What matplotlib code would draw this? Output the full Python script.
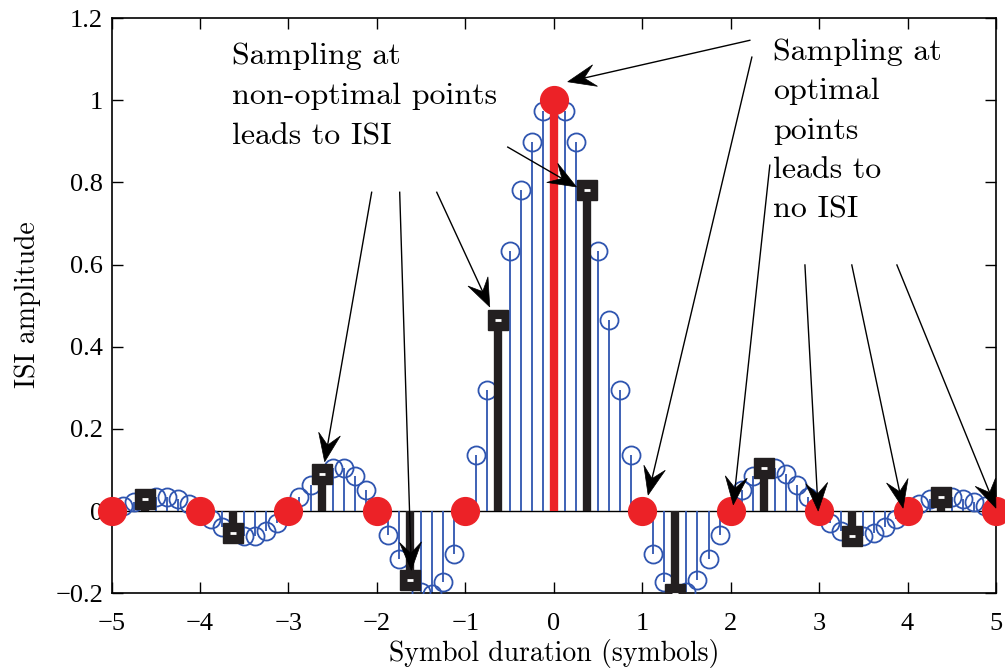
import numpy as np
import matplotlib
matplotlib.use('Agg')
import matplotlib.pyplot as plt
from matplotlib.patches import Polygon

# pulse sampled every 1/8 of a symbol, -5 .. 5
t_fine = np.linspace(-5, 5, 81)
isi_fine = [0.0, 0.011, 0.022, 0.030, 0.035, 0.035, 0.029, 0.017,
            0.0, -0.019, -0.038, -0.053, -0.061, -0.060, -0.049, -0.029,
            0.0, 0.033, 0.064, 0.090, 0.105, 0.104, 0.085, 0.050,
            0.0, -0.058, -0.117, -0.167, -0.198, -0.202, -0.172, -0.104,
            0.0, 0.136, 0.295, 0.465, 0.632, 0.781, 0.899, 0.974,
            1.0,
            0.974, 0.899, 0.781, 0.632, 0.465, 0.295, 0.136, 0.0,
            -0.104, -0.172, -0.202, -0.198, -0.167, -0.117, -0.058, 0.0,
            0.050, 0.085, 0.104, 0.105, 0.090, 0.064, 0.033, 0.0,
            -0.029, -0.049, -0.060, -0.061, -0.053, -0.038, -0.019, 0.0,
            0.017, 0.029, 0.035, 0.035, 0.030, 0.022, 0.011, 0.0]

# non-optimal sampling instants (offset by 3/8 symbol)
t_bad = [-4.625, -3.625, -2.625, -1.625, -0.625, 0.375, 1.375, 2.375, 3.375, 4.375]
isi_bad = [0.030, -0.053, 0.090, -0.167, 0.465, 0.781, -0.202, 0.104, -0.060, 0.035]

# optimal sampling instants
t_good = [-5, -4, -3, -2, -1, 0, 1, 2, 3, 4, 5]
isi_good = [0, 0, 0, 0, 0, 1, 0, 0, 0, 0, 0]

x_ticks = [-5, -4, -3, -2, -1, 0, 1, 2, 3, 4, 5]
x_ticklabels = ['\u22125', '\u22124', '\u22123', '\u22122', '\u22121', '0', '1', '2', '3', '4', '5']
y_ticks = [-0.2, 0, 0.2, 0.4, 0.6, 0.8, 1, 1.2]
y_ticklabels = ['\u22120.2', '0', '0.2', '0.4', '0.6', '0.8', '1', '1.2']

blue = '#2f55b0'
red = '#ec2227'
black = '#231f20'
cm = 'cmr10'

fig = plt.figure(figsize=(10.05, 6.71), dpi=100)
ax = fig.add_axes([0.111, 0.116, 0.880, 0.857])

ax.axhline(0, color='k', lw=1, zorder=1)

# blue stems
ax.vlines(t_fine, 0, isi_fine, color=blue, lw=1.3, zorder=2)
ax.plot(t_fine, isi_fine, 'o', ms=13, mfc='none', mec=blue, mew=1.3, zorder=3)

# black stems (bad sampling)
ax.vlines(t_bad, 0, isi_bad, color=black, lw=6, zorder=4)
ax.plot(t_bad, isi_bad, 's', ms=15, mfc=black, mec=black, zorder=5)
ax.plot(t_bad, isi_bad, '_', ms=4, mec='white', mew=2, zorder=6)

# red stems (good sampling)
ax.vlines(t_good, 0, isi_good, color=red, lw=6, zorder=7)
ax.plot(t_good, isi_good, 'o', ms=20, mfc=red, mec=red, zorder=8, clip_on=False)

ax.set_xlim(-5, 5)
ax.set_ylim(-0.2, 1.2)
ax.set_xticks(x_ticks)
ax.set_xticklabels(x_ticklabels)
ax.set_yticks(y_ticks)
ax.set_yticklabels(y_ticklabels)
ax.tick_params(direction='in', length=8, width=1, top=True, right=True, labelsize=19)
ax.tick_params(axis='x', pad=14)
ax.tick_params(axis='y', pad=6)
for lab in ax.get_xticklabels() + ax.get_yticklabels():
    lab.set_fontfamily('Liberation Serif')
for sp in ax.spines.values():
    sp.set_linewidth(1.2)

fig.text(554 / 1005, 1 - 653 / 671, 'Symbol duration (symbols)', fontfamily=cm,
         fontsize=20, ha='center', va='center')
fig.text(28 / 1005, 1 - 305 / 671, 'ISI amplitude', fontfamily=cm, fontsize=20,
         rotation=90, ha='center', va='center')

ax.text(-3.643, 1.14, 'Sampling at\nnon-optimal points\nleads to ISI',
        fontfamily=cm, fontsize=23, va='top', ha='left', linespacing=1.58, zorder=10)
ax.text(2.477, 1.15, 'Sampling at\noptimal\npoints\nleads to\nno ISI',
        fontfamily=cm, fontsize=23, va='top', ha='left', linespacing=1.55, zorder=10)

arrows = [((-2.059, 0.776), (-2.59, 0.12)),
          ((-1.742, 0.776), (-1.61, -0.144)),
          ((-1.323, 0.776), (-0.724, 0.497)),
          ((-0.52, 0.886), (0.257, 0.789)),
          ((2.217, 1.146), (0.158, 1.045)),
          ((2.24, 1.105), (1.067, 0.039)),
          ((2.443, 0.842), (2.03, 0.015)),
          ((2.84, 0.599), (2.99, 0.0)),
          ((3.37, 0.599), (3.95, 0.007)),
          ((3.88, 0.599), (5.0, 0.007))]

# concave arrowheads drawn in pixel space
head_len, head_half, notch = 28, 11, 0.6
for start, tip in arrows:
    p0 = ax.transData.transform(start)
    p1 = ax.transData.transform(tip)
    d = (p1 - p0) / np.hypot(*(p1 - p0))
    n = np.array([-d[1], d[0]])
    back = p1 - d * head_len
    nb = p1 - d * head_len * notch
    verts = [p1, back + n * head_half, nb, back - n * head_half]
    line_end = ax.transData.inverted().transform(nb)
    ax.plot([start[0], line_end[0]], [start[1], line_end[1]], color='k', lw=1,
            zorder=11, clip_on=False)
    ax.add_patch(Polygon(verts, closed=True, transform=None, facecolor='k',
                         edgecolor='k', lw=0.5, zorder=12, clip_on=False))

fig.savefig('out.png', dpi=100)
